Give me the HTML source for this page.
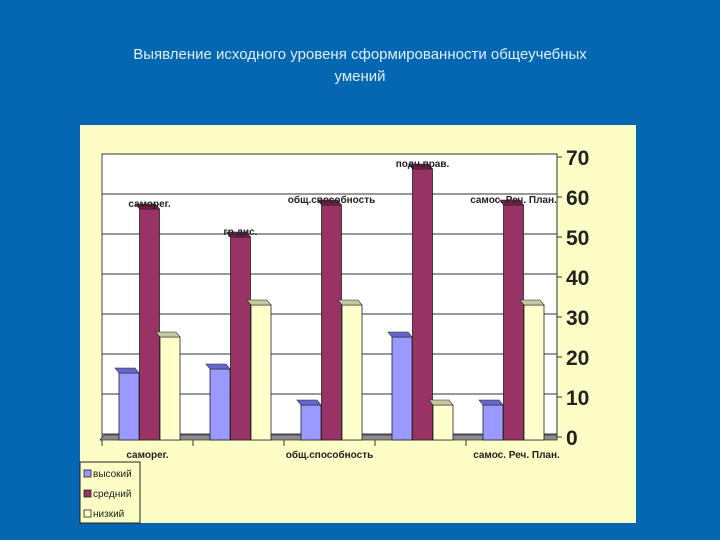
<!DOCTYPE html>
<html><head><meta charset="utf-8"><style>
body{margin:0;width:720px;height:540px;background:#0567b2;overflow:hidden;font-family:"Liberation Sans",sans-serif}
#title{position:absolute;left:0;width:720px;top:44px;text-align:center;color:#dff0ff;font-size:15px;line-height:22px}
</style></head><body>
<div id="title">Выявление исходного уровеня сформированности общеучебных<br>умений</div>
<svg id="c" width="720" height="540" style="position:absolute;left:0;top:0"></svg>
<script>
const categories=["саморег.","гр.дис.","общ.способность","подч.прав.","самос. Реч. План."];
const high=[16,17,8,25,8];
const mid=[57,50,58,67,58];
const low=[25,33,33,8,33];
const yTicks=[0,10,20,30,40,50,60,70];
const axisLabels=["саморег.","","общ.способность","","самос. Реч. План."];
const NS="http://www.w3.org/2000/svg";
const svg=document.getElementById('c');
function mk(t,a,p){const e=document.createElementNS(NS,t);for(const k in a)e.setAttribute(k,a[k]);(p||svg).appendChild(e);return e;}
const L=102,R=557,Z=437,T=157;
const y=v=>Z-(v/70)*(Z-T);
const gw=(R-L)/categories.length;
const bx=(i,s)=>L+i*gw+17+s*20.5;
let bg=mk('rect',{x:80,y:125,width:556,height:398,fill:'#fdfdc6'});

let pa=mk('rect',{x:L,y:T-3,width:R-L,height:Z-T+3,fill:'#ffffff',stroke:'#444','stroke-width':1});

yTicks.forEach(v=>{
 let g=mk('line',{x1:L,x2:R,y1:y(v)-3,y2:y(v)-3,stroke:'#333','stroke-width':1});
 
 mk('line',{x1:R,x2:R+5,y1:y(v),y2:y(v),stroke:'#333'});
 let t=mk('text',{x:566,y:y(v)+8,'font-size':21,'font-weight':'bold',fill:'#222'});t.textContent=v;
 
});
mk('line',{x1:R,x2:R,y1:T-3,y2:Z+3,stroke:'#333'});
let fl=mk('polygon',{points:`${L-2},${Z+3} ${R},${Z+3} ${R},${Z-2} ${L+2},${Z-2}`,fill:'#8c8c8c',stroke:'#333','stroke-width':0.8});

const series=[[high,'#9999ff','#6666cc'],[mid,'#993366','#6e2049'],[low,'#ffffcc','#c8c8a0']];
categories.forEach((c,i)=>{
 series.forEach((s,si)=>{
  const v=s[0][i],x=bx(i,si),w=20,yt=y(v);
  let b=mk('rect',{x:x,y:yt,width:w,height:Z+3-yt,fill:s[1],stroke:'#222','stroke-width':0.8});
  
  let tp=mk('polygon',{points:`${x},${yt} ${x+w},${yt} ${x+w-4},${yt-5} ${x-4},${yt-5}`,fill:s[2],stroke:'#222','stroke-width':0.6});
  
 });
 let lb=mk('text',{x:bx(i,1)+10,y:y(mid[i])-2,'text-anchor':'middle','font-size':10,'font-weight':'bold',fill:'#222'});
 lb.textContent=c;
 mk('line',{x1:L+i*gw,x2:L+i*gw,y1:Z+3,y2:Z+9,stroke:'#333'});
 if(axisLabels[i]){let t=mk('text',{x:L+(i+0.5)*gw+(i==4?5:0),y:458,'text-anchor':'middle','font-size':10,'font-weight':'bold',fill:'#222'});t.textContent=axisLabels[i];
 }
});
let lg=mk('rect',{x:80,y:462,width:60,height:61,fill:'#fdfdc6',stroke:'#222'});

[['высокий','#9999ff'],['средний','#993366'],['низкий','#ffffcc']].forEach((e,k)=>{
 const yy=470+k*20;
 let sw=mk('rect',{x:84,y:yy,width:7,height:7,fill:e[1],stroke:'#222','stroke-width':0.8});
 
 let t=mk('text',{x:93,y:yy+7,'font-size':10,fill:'#222'});t.textContent=e[0];
 
});
</script>
</body></html>
